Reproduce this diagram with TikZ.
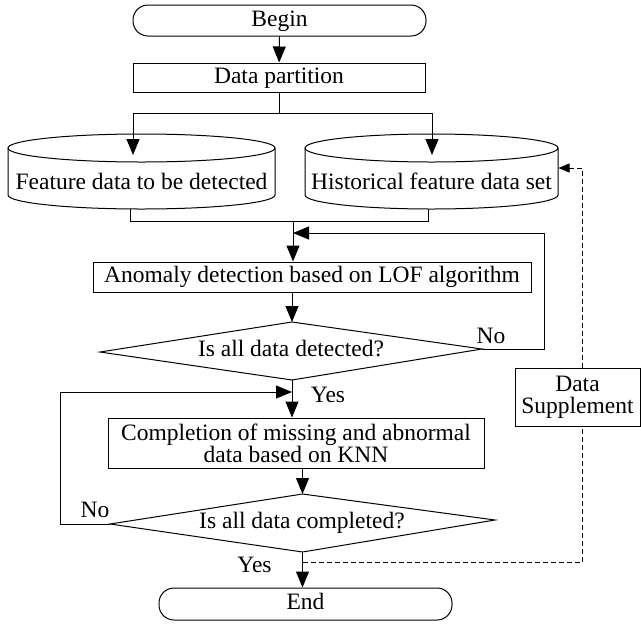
\documentclass[tikz,border=0pt]{standalone}
\usepackage{fontspec}
\setmainfont{Liberation Serif}
\usetikzlibrary{arrows.meta}
\begin{document}
\begin{tikzpicture}[x=1pt,y=1pt, line width=1pt,
  txt/.style={font=\fontsize{23.5}{22}\selectfont, inner sep=0pt, text height=16pt, text depth=5pt},
  txttwo/.style={font=\fontsize{23.5}{22}\selectfont, inner sep=0pt, align=center},
  box/.style={draw, txt, minimum height=29pt},
  term/.style={box, rounded corners=15pt},
  arr/.style={-{Triangle[length=16pt,width=13pt]}},
  dline/.style={dash pattern=on 5pt off 3pt},
  darr/.style={dline, -{Triangle[length=11pt,width=9pt]}}]
\useasboundingbox (0,0) rectangle (641,-625);

% top terminals and boxes
\node[term, minimum width=293pt, minimum height=31pt] (begin) at (279.5,-20.5) {Begin};
\node[box, minimum width=292pt, minimum height=29pt] (part) at (279,-77.5) {Data partition};

% cylinder 1
\draw (141.5,-148) ellipse [x radius=133.5, y radius=14];
\draw (8,-148) -- (8,-195) arc[start angle=180,end angle=360,x radius=133.5,y radius=14] -- (275,-148);
\node[txt] (cyl1) at (141.5,-184) {Feature data to be detected};
\coordinate (c1top) at (133,-155);
\coordinate (c1bot) at (130,-209);

% cylinder 2
\draw (431.5,-148) ellipse [x radius=126.5, y radius=14];
\draw (305,-148) -- (305,-195) arc[start angle=180,end angle=360,x radius=126.5,y radius=14] -- (558,-148);
\node[txt] (cyl2) at (431.5,-184) {Historical feature data set};
\coordinate (c2top) at (432,-155);
\coordinate (c2bot) at (428,-209);
\coordinate (c2right) at (558.5,-168);

% LOF box
\node[box, minimum width=438pt, minimum height=30pt] (lof) at (312,-277) {Anomaly detection based on LOF algorithm};

% diamond 1
\coordinate (d1t) at (292,-322);
\coordinate (d1r) at (482,-349);
\coordinate (d1b) at (292,-380);
\coordinate (d1l) at (100,-352);
\draw (d1t) -- (d1r) -- (d1b) -- (d1l) -- cycle;
\node[txt] (q1) at (291,-351) {Is all data detected?};

% KNN box
\node[draw, txttwo, minimum width=376pt, minimum height=50pt] (knn) at (296,-443) {Completion of missing and abnormal\\data based on KNN};

% diamond 2
\coordinate (d2t) at (302.5,-494);
\coordinate (d2r) at (495,-520);
\coordinate (d2b) at (302.5,-552);
\coordinate (d2l) at (110,-524);
\draw (d2t) -- (d2r) -- (d2b) -- (d2l) -- cycle;
\node[txt] (q2) at (302,-523) {Is all data completed?};

% end
\node[term, minimum width=293pt, minimum height=32pt] (end) at (305.5,-604) {End};

% data supplement
\node[draw, txttwo, minimum width=125pt, minimum height=58pt] (supp) at (577.5,-397) {Data\\Supplement};

% labels
\node[txt] (no1) at (491,-338) {No};
\node[txt] (yes1) at (328,-397) {Yes};
\node[txt] (no2) at (95,-512) {No};
\node[txt] (yes2) at (254.5,-567) {Yes};

% connectors
\draw[arr] (begin) -- (part);
\coordinate (split) at (279,-113);
\draw (part.south) -- (split);
\draw[arr] (split) -| (c1top);
\draw[arr] (split) -| (c2top);
\coordinate (join) at (293,-221);
\draw (c1bot) |- (join);
\draw (c2bot) |- (join);
\draw[arr] (join) -- (join |- lof.north);
\coordinate (loopa) at (293,-233);
\draw[arr] (d1r) -- ++(62,0) |- (loopa);
\draw[arr] (lof.south -| d1t) -- (d1t);
\draw[arr] (d1b) -- (d1b |- knn.north);
\coordinate (loopb) at (292,-392);
\draw[arr] (d2l) -- ++(-50,0) |- (loopb);
\draw[arr] (knn.south -| d2t) -- (d2t);
\draw[arr] (d2b) -- (d2b |- end.north);

% dashed feedback
\coordinate (dj) at (302.5,-562);
\coordinate (dx) at (582,-562);
\draw[dline] (dj) -- (dx) -- (dx |- supp.south);
\draw[darr] (dx |- supp.north) |- (c2right);
\end{tikzpicture}
\end{document}
